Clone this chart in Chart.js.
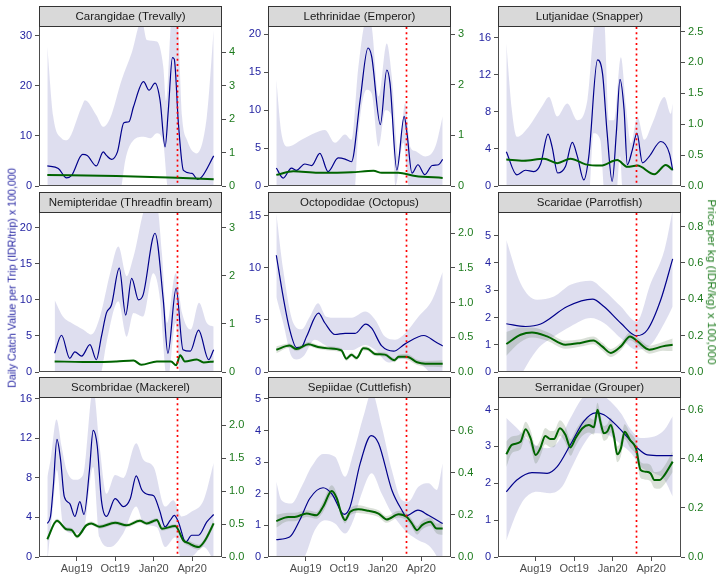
<!DOCTYPE html>
<html><head><meta charset="utf-8">
<script src="https://cdn.jsdelivr.net/npm/chart.js@4"></script>
<style>
html,body{margin:0;padding:0;background:#fff;}
#wrap{position:relative;width:723px;height:579px;overflow:hidden;background:#fff;font-family:"Liberation Sans",Arial,sans-serif;}
canvas{position:absolute;}
.ttl{position:absolute;white-space:nowrap;line-height:1;}
</style></head><body><div id="wrap"></div>
<script>
// ---- x axis (days since 1 June 2019) ----
const dateTicks = [64, 148, 232, 316];
const dateLabels = ['Aug19', 'Oct19', 'Jan20', 'Apr20'];
const covidDay = 283;
const families = ['Carangidae (Trevally)','Lethrinidae (Emperor)','Lutjanidae (Snapper)','Nemipteridae (Threadfin bream)','Octopodidae (Octopus)','Scaridae (Parrotfish)','Scombridae (Mackerel)','Sepiidae (Cuttlefish)','Serranidae (Grouper)'];

// ---- Carangidae ----
const caraDay = [0,24,42,53,77,87,107,122,129,140,153,167,178,188,210,222,235,246,257,264,273,277,286,297,316,328,337,363];
const caraCatch = [4.0,3.5,1.6,2.1,6.3,6.1,4.0,6.8,6.1,5.3,6.8,12.6,12.8,15.8,20.8,19.1,20.5,17.1,7.8,15.1,25.6,25.3,12.5,3.1,2.5,1.3,1.8,6.0];
const caraHiDay = [0,13,31,42,75,82,107,122,137,162,184,206,217,239,253,259,272,283,294,305,326,348,363];
const caraHi = [27.8,13.8,9.5,9.1,15.8,17.1,14.1,11.8,13.5,21.1,26.5,33,29.1,28.8,23.8,17.0,34,34,13.8,9.1,6.5,13.8,31.1];
const caraLoDay = [0,100,155,162,170,188,210,225,239,253,262,275,363];
const caraLo = [-8,-8,-3,0,5.1,9.1,9.8,9.5,10.5,8.5,0,-5,-8];
const caraPriceDay = [0,151,283,363];
const caraPrice = [0.33,0.30,0.25,0.20];
const caraCatchTicks = [0,10,20,30];
const caraPriceTicks = [0,1,2,3,4];

// ---- Lethrinidae ----
const lethDay = [0,15,33,44,62,77,95,113,135,150,164,183,200,208,227,241,248,263,279,285,296,309,324,340,354,363];
const lethCatch = [2.37,1.05,2.37,2.06,2.9,2.7,4.3,1.9,3.7,3.55,3.2,11.4,18.2,17.1,8.1,15.3,13.6,2.1,9.2,7.0,1.7,2.8,1.5,2.7,2.8,3.5];
const lethHiDay = [0,11,26,55,84,106,128,150,164,179,197,208,223,241,252,267,281,292,303,325,347,363];
const lethHi = [14.0,7.0,5.2,6.1,7.0,7.4,5.7,6.8,6.1,15.7,22,21,11.8,18.8,14.4,3.9,10.9,5.2,4.6,3.9,5.2,9.2];
const lethLoDay = [0,170,179,197,208,223,238,252,260,277,288,300,363];
const lethLo = [-3,-1,7.0,12.7,12.2,5.2,10.0,9.2,0,5.7,0,-3,-3];
const lethPriceDay = [0,37,91,164,212,230,266,303,363];
const lethPrice = [0.22,0.29,0.26,0.27,0.30,0.26,0.26,0.20,0.16];
const lethCatchTicks = [0,5,10,15,20];
const lethPriceTicks = [0,1,2,3];

// ---- Lutjanidae ----
const lutjDay = [0,23,42,60,75,91,100,112,129,144,155,169,180,199,210,220,231,240,248,257,264,275,285,297,312,337,356,363];
const lutjCatch = [3.7,1.2,1.7,1.55,2.4,5.6,4.2,1.4,2.1,4.7,3.2,0.65,3.2,13.6,12.1,5.7,0.5,5.7,11.5,8.2,2.3,3.9,5.7,2.5,3.2,4.8,3.5,1.7];
const lutjHiDay = [0,12,23,49,78,93,111,133,155,177,195,213,224,235,250,261,272,286,301,319,345,359,363];
const lutjHi = [15.4,8.2,5.3,6.4,8.6,9.6,7.5,8.9,7.1,9.3,18,18,7.1,7.1,13.9,8.6,4.6,7.5,5.0,6.8,9.6,7.8,8.9];
const lutjLoDay = [0,180,190,205,215,240,248,255,363];
const lutjLo = [-3,-1,5.7,5.0,-1,-1,3.2,-1,-3];
const lutjPriceDay = [0,38,82,111,140,173,206,242,264,286,323,348,363];
const lutjPrice = [0.43,0.41,0.44,0.37,0.44,0.35,0.33,0.42,0.31,0.33,0.19,0.34,0.26];
const lutjCatchTicks = [0,4,8,12,16];
const lutjPriceTicks = [0,0.5,1.0,1.5,2.0,2.5];

// ---- Nemipteridae ----
const nemiDay = [16,31,49,60,75,93,107,118,129,140,157,171,184,199,209,235,253,263,281,296,312,330,352,363];
const nemiCatch = [2.6,5.1,1.9,2.8,2.2,3.8,1.7,4.9,8.2,9.3,14.4,7.9,13.0,10.0,10.7,19.25,10.0,2.6,11.6,3.1,2.9,5.8,1.7,3.1];
const nemiHiDay = [16,34,53,78,96,115,137,155,173,188,217,239,250,261,280,294,313,331,348,363];
const nemiHi = [10.0,7.7,6.8,5.9,5.2,7.7,13.7,17.4,13.3,16.0,23,23,16.5,6.8,13.7,8.2,5.9,9.6,6.8,6.3];
const nemiLoDay = [16,110,118,129,155,173,188,209,231,246,258,263,280,290,363];
const nemiLo = [-4,-1,0,4.0,9.8,4.9,8.2,7.7,13.7,10,0,-1,6.8,-1,-4];
const nemiPriceDay = [16,78,115,151,188,205,239,270,281,290,300,326,341,363];
const nemiPrice = [0.22,0.21,0.21,0.22,0.24,0.15,0.22,0.22,0.14,0.35,0.22,0.26,0.20,0.22];
const nemiCatchTicks = [0,5,10,15,20];
const nemiPriceTicks = [0,1,2,3];

// ---- Octopodidae ----
const octoDay = [0,15,29,44,55,66,92,106,128,150,172,195,208,230,256,281,322,347,363];
const octoCatch = [11.2,7.2,4.1,2.35,2.4,3.4,5.65,4.7,3.6,3.7,3.7,4.6,4.2,2.5,2.0,2.7,3.5,2.9,2.5];
const octoHiDay = [0,15,37,55,73,91,109,128,164,194,216,237,259,281,310,340,363];
const octoHi = [15.2,9.8,4.7,4.1,5.3,6.6,5.3,5.2,5.2,5.8,5.0,3.4,3.1,3.7,5.3,6.9,9.6];
const octoLoDay = [0,15,33,44,59,84,106,128,164,194,216,245,274,310,340,363];
const octoLo = [7.2,4.7,1.5,1.2,1.5,3.1,2.6,2.1,2.1,2.6,2.1,0.9,1.3,0.9,-0.4,-2.3];
const octoPriceDay = [0,29,44,70,91,113,142,153,164,175,190,201,215,237,258,267,285,307,325,363];
const octoPrice = [0.32,0.38,0.33,0.40,0.36,0.34,0.31,0.19,0.25,0.20,0.34,0.33,0.26,0.25,0.17,0.22,0.22,0.14,0.12,0.12];
const octoPriceHi = [0.37,0.41,0.36,0.43,0.39,0.37,0.34,0.22,0.28,0.23,0.37,0.36,0.29,0.28,0.20,0.25,0.26,0.18,0.16,0.17];
const octoPriceLo = [0.27,0.35,0.30,0.37,0.33,0.31,0.28,0.16,0.22,0.17,0.31,0.30,0.23,0.22,0.14,0.19,0.18,0.10,0.08,0.07];
const octoCatchTicks = [0,5,10,15];
const octoPriceTicks = [0,0.5,1.0,1.5,2.0];

// ---- Scaridae ----
const scarDay = [0,42,75,133,188,213,250,284,308,337,363];
const scarCatch = [1.77,1.67,1.76,2.4,2.67,2.4,1.79,1.33,1.55,2.65,4.15];
const scarHiDay = [0,31,67,104,140,184,213,250,284,315,345,363];
const scarHi = [4.84,3.26,2.65,2.77,3.2,3.35,3.0,2.4,1.85,3.26,4.48,5.94];
const scarLoDay = [0,31,67,104,140,184,213,250,284,315,345,363];
const scarLo = [-1.26,-0.16,0.82,1.3,1.67,1.98,1.8,1.24,0.82,1.0,1.8,2.4];
const scarPriceDay = [0,31,56,89,129,162,190,209,228,250,270,286,312,341,363];
const scarPrice = [0.154,0.205,0.218,0.196,0.15,0.16,0.174,0.141,0.105,0.141,0.196,0.169,0.123,0.141,0.150];
const scarPriceHi = [0.22,0.245,0.245,0.22,0.172,0.18,0.195,0.162,0.127,0.162,0.217,0.19,0.145,0.165,0.185];
const scarPriceLo = [0.09,0.165,0.19,0.172,0.128,0.14,0.153,0.12,0.083,0.12,0.175,0.148,0.101,0.117,0.115];
const scarCatchTicks = [0,1,2,3,4,5];
const scarPriceTicks = [0,0.2,0.4,0.6,0.8];

// ---- Scombridae ----
const scomDay = [0,7,13,21,29,37,49,60,71,80,92,100,109,118,129,148,166,181,194,206,221,232,245,257,268,277,286,302,315,330,348,363];
const scomCatch = [3.4,4.1,7.1,11.9,9.8,6.1,5.4,4.1,5.6,4.3,8.8,12.8,11.2,5.75,4.1,5.9,5.1,5.9,8.2,6.8,6.3,6.2,4.7,3.05,3.7,4.2,3.55,1.5,2.2,2.2,3.55,4.3];
const scomHiDay = [0,7,20,31,42,60,78,100,114,129,148,166,194,210,232,257,275,293,315,341,363];
const scomHi = [8.1,9.8,13.9,11.2,8.8,7.8,8.3,17,11.2,6.4,8.3,8.0,11.5,9.8,9.1,5.1,5.75,4.1,4.6,5.75,9.5];
const scomLoDay = [0,13,21,34,56,78,100,114,137,166,194,210,239,257,279,293,315,341,363];
const scomLo = [-0.5,5.4,8.8,3.4,2.4,2.4,9.1,2.0,1.0,2.4,5.1,3.4,3.0,1.0,2.0,-0.3,0,1.0,-0.3];
const scomPriceDay = [0,21,42,53,65,85,96,114,148,173,202,217,239,250,279,297,308,330,344,363];
const scomPrice = [0.27,0.55,0.42,0.41,0.31,0.48,0.51,0.46,0.52,0.48,0.55,0.51,0.56,0.43,0.47,0.25,0.21,0.15,0.25,0.51];
const scomPriceHi = [0.31,0.58,0.45,0.44,0.34,0.51,0.54,0.49,0.55,0.51,0.58,0.54,0.59,0.46,0.50,0.28,0.25,0.19,0.29,0.56];
const scomPriceLo = [0.23,0.52,0.39,0.38,0.28,0.45,0.48,0.43,0.49,0.45,0.52,0.48,0.53,0.40,0.44,0.22,0.17,0.11,0.21,0.46];
const scomCatchTicks = [0,4,8,12,16];
const scomPriceTicks = [0,0.5,1.0,1.5,2.0];

// ---- Sepiidae ----
const sepiDay = [0,29,51,73,102,121,148,161,183,207,223,252,274,283,309,332,363];
const sepiCatch = [0.55,0.63,1.16,1.85,2.19,2.0,1.35,1.59,2.96,3.84,3.6,2.12,1.48,1.30,1.48,1.32,1.06];
const sepiHiDay = [0,11,33,55,77,102,128,150,168,190,208,230,252,274,288,310,332,350,363];
const sepiHi = [2.38,1.8,1.69,2.22,2.86,3.26,3.17,2.54,3.28,4.44,5.2,4.13,2.75,1.8,1.75,2.22,2.33,2.12,2.96];
const sepiLoDay = [0,33,62,84,106,128,150,168,186,208,230,252,274,288,310,336,354,363];
const sepiLo = [-1.16,-0.53,0,0.85,1.16,1.06,0.74,1.16,2.0,2.65,2.0,1.38,0.95,0.74,0.53,0.32,-0.1,-0.5];
const sepiPriceDay = [0,26,40,66,88,102,121,132,142,150,161,179,201,223,241,267,285,296,307,318,336,350,363];
const sepiPrice = [0.17,0.19,0.19,0.206,0.198,0.238,0.313,0.278,0.206,0.175,0.214,0.227,0.219,0.206,0.178,0.203,0.19,0.159,0.127,0.151,0.167,0.135,0.135];
const sepiPriceHi = [0.20,0.21,0.21,0.222,0.214,0.262,0.34,0.30,0.222,0.19,0.23,0.245,0.235,0.222,0.194,0.219,0.208,0.178,0.147,0.171,0.187,0.158,0.165];
const sepiPriceLo = [0.14,0.17,0.17,0.19,0.182,0.214,0.286,0.256,0.19,0.16,0.198,0.209,0.203,0.19,0.162,0.187,0.172,0.14,0.107,0.131,0.147,0.112,0.105];
const sepiCatchTicks = [0,1,2,3,4,5];
const sepiPriceTicks = [0,0.2,0.4,0.6];

// ---- Serranidae ----
const serrDay = [0,23,56,89,111,140,169,195,213,242,272,284,308,337,363];
const serrCatch = [1.77,2.09,2.29,2.27,2.45,3.05,3.68,3.91,3.86,3.55,3.14,2.98,2.77,2.75,2.75];
const serrHiDay = [0,23,56,89,114,140,169,195,220,250,272,293,323,345,363];
const serrHi = [3.77,3.5,3.09,2.95,3.14,3.77,4.36,4.5,4.3,3.9,3.45,3.23,3.27,3.45,3.82];
const serrLoDay = [0,16,38,67,96,122,140,166,191,220,250,272,293,323,345,363];
const serrLo = [0.45,1.0,1.55,1.77,1.73,1.91,2.36,3.0,3.36,3.32,3.05,2.82,2.45,2.27,2.09,1.64];
const serrPriceDay = [0,12,31,42,53,64,74,85,96,104,117,129,140,151,166,180,191,199,206,213,220,228,235,242,250,258,270,283,293,304,315,323,334,345,363];
const serrPrice = [0.418,0.456,0.469,0.52,0.483,0.415,0.442,0.492,0.48,0.48,0.524,0.497,0.446,0.483,0.524,0.537,0.528,0.599,0.544,0.503,0.51,0.537,0.49,0.418,0.442,0.51,0.476,0.442,0.354,0.347,0.34,0.313,0.313,0.333,0.388];
const serrPriceHi = [0.47,0.49,0.50,0.55,0.515,0.45,0.475,0.525,0.513,0.513,0.556,0.53,0.48,0.515,0.555,0.567,0.558,0.628,0.574,0.533,0.54,0.567,0.52,0.45,0.474,0.54,0.506,0.472,0.387,0.38,0.373,0.346,0.348,0.37,0.43];
const serrPriceLo = [0.366,0.422,0.438,0.49,0.451,0.38,0.409,0.459,0.447,0.447,0.492,0.464,0.412,0.451,0.493,0.507,0.498,0.57,0.514,0.473,0.48,0.507,0.46,0.386,0.41,0.48,0.446,0.412,0.321,0.314,0.307,0.28,0.278,0.296,0.346];
const serrCatchTicks = [0,1,2,3,4];
const serrPriceTicks = [0,0.2,0.4,0.6];

// ---- assemble ----
const panels = [
  {bx:caraDay,by:caraCatch,hx:caraHiDay,hy:caraHi,lx:caraLoDay,ly:caraLo,gx:caraPriceDay,gy:caraPrice,ghi:null,glo:null,yMax:31.9,yT:caraCatchTicks,y2T:caraPriceTicks,dec:0},
  {bx:lethDay,by:lethCatch,hx:lethHiDay,hy:lethHi,lx:lethLoDay,ly:lethLo,gx:lethPriceDay,gy:lethPrice,ghi:null,glo:null,yMax:21.1,yT:lethCatchTicks,y2T:lethPriceTicks,dec:0},
  {bx:lutjDay,by:lutjCatch,hx:lutjHiDay,hy:lutjHi,lx:lutjLoDay,ly:lutjLo,gx:lutjPriceDay,gy:lutjPrice,ghi:null,glo:null,yMax:17.26,yT:lutjCatchTicks,y2T:lutjPriceTicks,dec:1},
  {bx:nemiDay,by:nemiCatch,hx:nemiHiDay,hy:nemiHi,lx:nemiLoDay,ly:nemiLo,gx:nemiPriceDay,gy:nemiPrice,ghi:null,glo:null,yMax:22.2,yT:nemiCatchTicks,y2T:nemiPriceTicks,dec:0},
  {bx:octoDay,by:octoCatch,hx:octoHiDay,hy:octoHi,lx:octoLoDay,ly:octoLo,gx:octoPriceDay,gy:octoPrice,ghi:octoPriceHi,glo:octoPriceLo,yMax:15.35,yT:octoCatchTicks,y2T:octoPriceTicks,dec:1},
  {bx:scarDay,by:scarCatch,hx:scarHiDay,hy:scarHi,lx:scarLoDay,ly:scarLo,gx:scarPriceDay,gy:scarPrice,ghi:scarPriceHi,glo:scarPriceLo,yMax:5.87,yT:scarCatchTicks,y2T:scarPriceTicks,dec:1},
  {bx:scomDay,by:scomCatch,hx:scomHiDay,hy:scomHi,lx:scomLoDay,ly:scomLo,gx:scomPriceDay,gy:scomPrice,ghi:scomPriceHi,glo:scomPriceLo,yMax:16.18,yT:scomCatchTicks,y2T:scomPriceTicks,dec:1},
  {bx:sepiDay,by:sepiCatch,hx:sepiHiDay,hy:sepiHi,lx:sepiLoDay,ly:sepiLo,gx:sepiPriceDay,gy:sepiPrice,ghi:sepiPriceHi,glo:sepiPriceLo,yMax:5.06,yT:sepiCatchTicks,y2T:sepiPriceTicks,dec:1},
  {bx:serrDay,by:serrCatch,hx:serrHiDay,hy:serrHi,lx:serrLoDay,ly:serrLo,gx:serrPriceDay,gy:serrPrice,ghi:serrPriceHi,glo:serrPriceLo,yMax:4.34,yT:serrCatchTicks,y2T:serrPriceTicks,dec:1}
];

const FONT = "'Liberation Sans', Arial, sans-serif";
const BLUE = '#00008B', GREEN = '#006400';
const BLUE_TXT = '#2424a2', GREEN_TXT = '#1c7a1c', GREY = '#4d4d4d';
const PRICE_RATIO = 0.15;
const wrap = document.getElementById('wrap');
const pts = (xs, ys) => (xs && ys) ? xs.map((x, i) => ({x: x, y: ys[i]})) : [];

function makeDeco(title) {
  return {
    id: 'deco',
    afterDatasetsDraw(chart) {
      const {ctx, chartArea: a, scales} = chart;
      const px = Math.round(scales.x.getPixelForValue(covidDay)) + 0.5;
      ctx.save();
      ctx.strokeStyle = '#ff0000'; ctx.lineWidth = 1.7; ctx.setLineDash([2, 3.3]);
      ctx.beginPath(); ctx.moveTo(px, a.top + 1); ctx.lineTo(px, a.bottom); ctx.stroke();
      ctx.restore();
    },
    afterDraw(chart) {
      const {ctx, chartArea: a} = chart;
      ctx.save();
      ctx.strokeStyle = GREY; ctx.lineWidth = 1;
      ctx.strokeRect(a.left + 0.5, a.top + 0.5, a.right - a.left - 1, a.bottom - a.top - 1);
      ctx.fillStyle = '#d9d9d9';
      ctx.fillRect(a.left, 0, a.right - a.left, a.top);
      ctx.strokeStyle = '#333333';
      ctx.strokeRect(a.left + 0.5, 0.5, a.right - a.left - 1, a.top);
      ctx.fillStyle = '#1a1a1a';
      ctx.font = '11.5px ' + FONT;
      ctx.textAlign = 'center'; ctx.textBaseline = 'middle';
      ctx.fillText(title, (a.left + a.right) / 2, a.top / 2 + 1);
      ctx.restore();
    }
  };
}

const colLeft = [3, 232, 462];
const rowTop = [6, 192, 377];

panels.forEach((p, idx) => {
  const col = idx % 3, row = Math.floor(idx / 3);
  const bottomRow = row === 2;
  const W = 255, H = bottomRow ? 202 : 192;
  const cv = document.createElement('canvas');
  cv.width = W; cv.height = H;
  cv.style.left = colLeft[col] + 'px'; cv.style.top = rowTop[row] + 'px';
  cv.style.width = W + 'px'; cv.style.height = H + 'px';
  wrap.appendChild(cv);

  const common = {pointRadius: 0, cubicInterpolationMode: 'monotone'};
  const datasets = [
    Object.assign({data: pts(p.gx, p.gy), yAxisID: 'y2', borderColor: GREEN, borderWidth: 2, fill: false, order: 0}, common),
    Object.assign({data: pts(p.bx, p.by), yAxisID: 'y', borderColor: BLUE, borderWidth: 1.2, fill: false, order: 1}, common),
    Object.assign({data: pts(p.gx, p.glo), yAxisID: 'y2', borderColor: 'rgba(0,0,0,0)', borderWidth: 0, fill: 3, backgroundColor: 'rgba(70,100,60,0.2)', order: 2}, common),
    Object.assign({data: pts(p.gx, p.ghi), yAxisID: 'y2', borderColor: 'rgba(0,0,0,0)', borderWidth: 0, fill: false, order: 3}, common),
    Object.assign({data: pts(p.lx, p.ly), yAxisID: 'y', borderColor: 'rgba(0,0,0,0)', borderWidth: 0, fill: 5, backgroundColor: 'rgba(20,20,140,0.14)', order: 4}, common),
    Object.assign({data: pts(p.hx, p.hy), yAxisID: 'y', borderColor: 'rgba(0,0,0,0)', borderWidth: 0, fill: false, order: 5}, common)
  ];

  const gridOpts = {display: true, drawOnChartArea: false, drawTicks: true, tickLength: 4, color: GREY, lineWidth: 1};
  new Chart(cv, {
    type: 'line',
    data: {datasets: datasets},
    options: {
      responsive: false, animation: false, devicePixelRatio: 1, events: [],
      layout: {padding: {top: 20, bottom: bottomRow ? 0 : 12, left: 0, right: 0}},
      plugins: {legend: {display: false}, tooltip: {enabled: false}},
      scales: {
        x: {
          type: 'linear', min: -18.15, max: 381.15, display: bottomRow,
          afterBuildTicks: s => { s.ticks = dateTicks.map(v => ({value: v})); },
          afterFit: s => { s.height = bottomRow ? 22 : 0; },
          ticks: {callback: (v, i) => dateLabels[i], color: GREY, font: {size: 11, family: FONT}, padding: 1, maxRotation: 0, autoSkip: false},
          grid: gridOpts, border: {display: false}
        },
        y: {
          type: 'linear', position: 'left', min: 0, max: p.yMax,
          afterBuildTicks: s => { s.ticks = p.yT.map(v => ({value: v})); },
          afterFit: s => { s.width = 36; },
          ticks: {callback: v => String(v), color: BLUE_TXT, font: {size: 11, family: FONT}, padding: 3},
          grid: gridOpts, border: {display: false}
        },
        y2: {
          type: 'linear', position: 'right', min: 0, max: p.yMax * PRICE_RATIO,
          afterBuildTicks: s => { s.ticks = p.y2T.map(v => ({value: v})); },
          afterFit: s => { s.width = 36; },
          ticks: {callback: v => Number(v).toFixed(p.dec), color: GREEN_TXT, font: {size: 11, family: FONT}, padding: 3},
          grid: gridOpts, border: {display: false}
        }
      }
    },
    plugins: [makeDeco(families[idx])]
  });
});

// axis titles
const lt = document.createElement('div');
lt.className = 'ttl';
lt.textContent = 'Daily Catch Value per Trip (IDR/trip) x 100,000';
lt.style.cssText += 'left:12px;top:278px;font-size:10.7px;color:' + BLUE_TXT + ';transform:translate(-50%,-50%) rotate(-90deg);';
wrap.appendChild(lt);
const rt = document.createElement('div');
rt.className = 'ttl';
rt.textContent = 'Price per kg (IDR/kg) x 100,000';
rt.style.cssText += 'left:711px;top:282px;font-size:11.8px;color:' + GREEN_TXT + ';transform:translate(-50%,-50%) rotate(90deg);';
wrap.appendChild(rt);
</script></body></html>
